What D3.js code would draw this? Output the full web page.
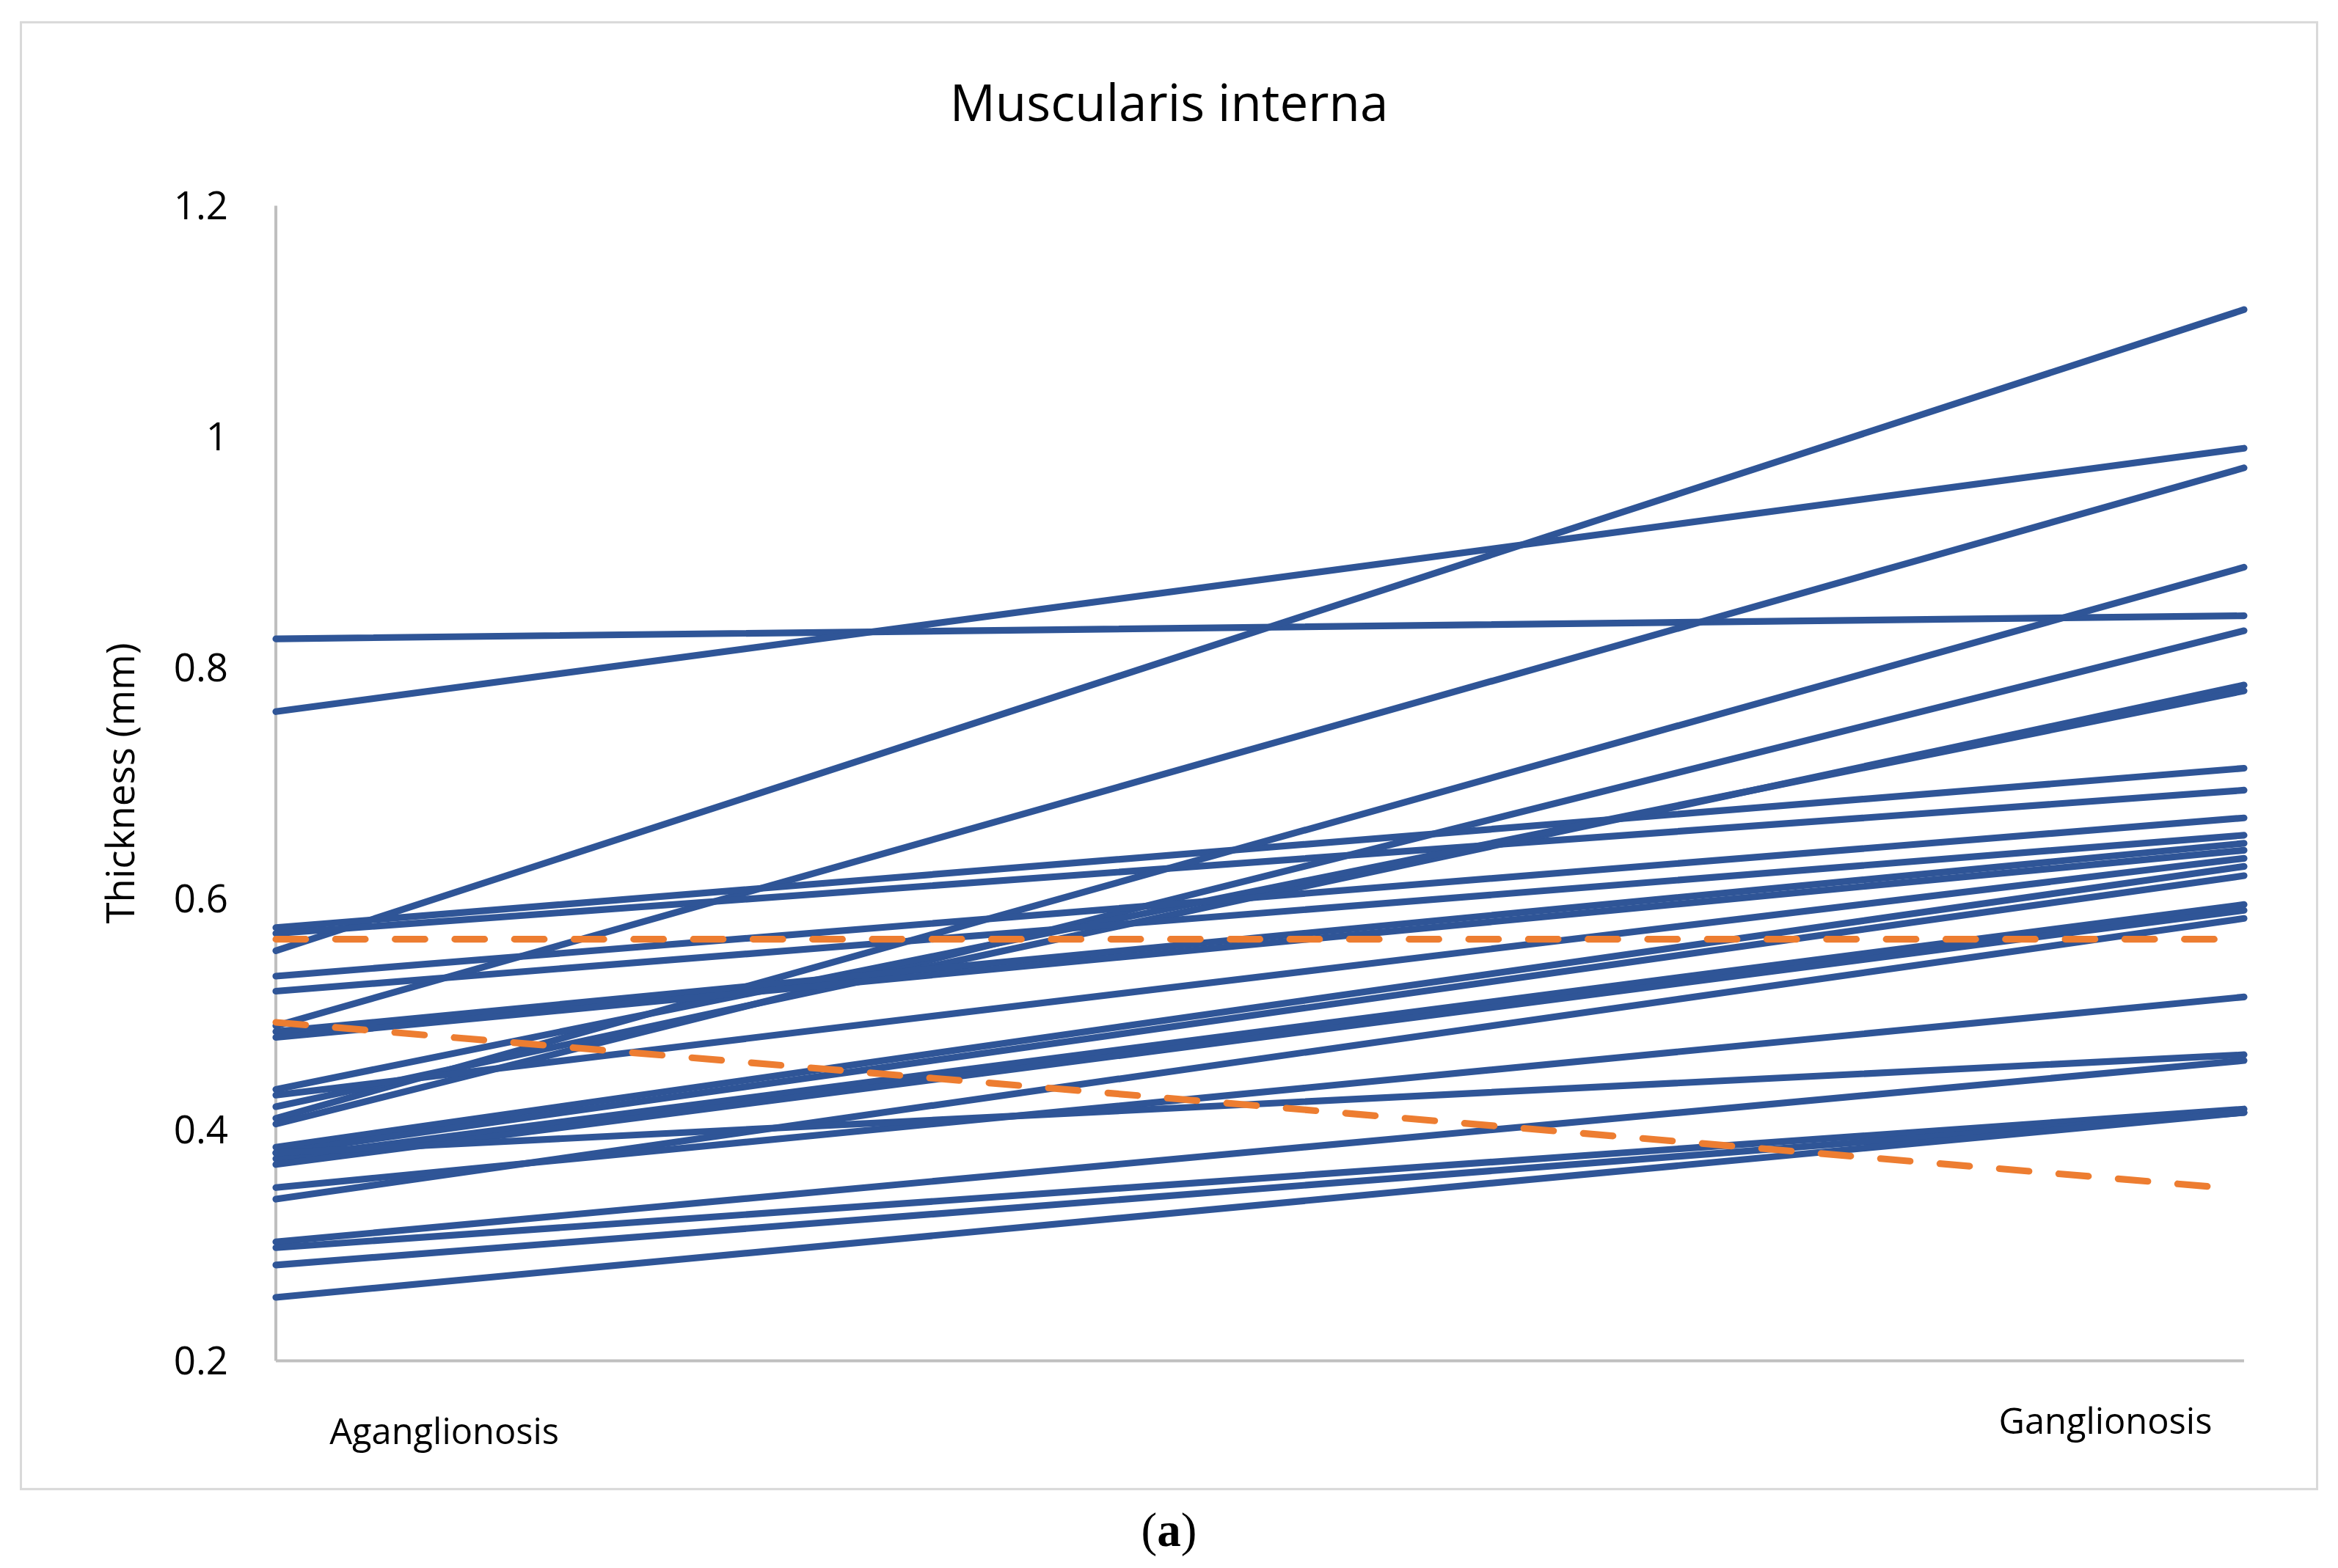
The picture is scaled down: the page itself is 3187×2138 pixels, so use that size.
<!DOCTYPE html>
<html>
<head>
<meta charset="utf-8">
<script src="https://cdn.jsdelivr.net/npm/d3@7"></script>
<style>
  body { margin: 0; background: #fff; }
  text { font-family: "Open Sans", "Noto Sans", sans-serif; }
  text.cap { font-family: "Liberation Serif", serif; }
</style>
</head>
<body>
<div id="chart"></div>
<script>
// categories and values (thickness in mm)
var categories = ["Aganglionosis", "Ganglionosis"];
var aganglionosis = [0.825, 0.762, 0.555, 0.49, 0.575, 0.57, 0.41, 0.405, 0.42, 0.435,
  0.533, 0.52, 0.485, 0.48, 0.43, 0.385, 0.38, 0.375, 0.37, 0.34, 0.35, 0.38, 0.303, 0.298, 0.283, 0.255];
var ganglionosis = [0.845, 0.99, 1.11, 0.973, 0.713, 0.694, 0.887, 0.832, 0.785, 0.78,
  0.67, 0.655, 0.648, 0.642, 0.635, 0.628, 0.62, 0.595, 0.59, 0.583, 0.515, 0.465, 0.46, 0.418, 0.415, 0.415];
var refStart = [0.565, 0.493];
var refEnd = [0.565, 0.35];
var yTicks = [0.2, 0.4, 0.6, 0.8, 1, 1.2];

var W = 1568, H = 1050;
var svg = d3.select("#chart").append("svg")
  .attr("width", 3187).attr("height", 2138)
  .attr("viewBox", "0 0 " + W + " " + H);

svg.append("rect").attr("x", 14).attr("y", 14).attr("width", 1540).attr("height", 984)
  .attr("fill", "#fff").attr("stroke", "#d9d9d9").attr("stroke-width", 1.5);

var x = d3.scalePoint().domain(categories).range([185, 1505]);
var y = d3.scaleLinear().domain([0.2, 1.2]).range([912, 137]);

// axes
svg.append("line").attr("x1", 185).attr("x2", 185).attr("y1", y(1.2)).attr("y2", y(0.2))
  .attr("stroke", "#bfbfbf").attr("stroke-width", 2);
svg.append("line").attr("x1", 185).attr("x2", 1505).attr("y1", y(0.2)).attr("y2", y(0.2))
  .attr("stroke", "#bfbfbf").attr("stroke-width", 2);

svg.selectAll(".tick").data(yTicks).enter().append("text")
  .attr("x", 153).attr("y", function (d) { return y(d); }).attr("dy", "0.35em")
  .attr("text-anchor", "end").attr("font-size", 26).attr("fill", "#000")
  .text(function (d) { return d; });

svg.append("text").attr("transform", "translate(90," + y(0.7) + ") rotate(-90)")
  .attr("text-anchor", "middle").attr("font-size", 26).text("Thickness (mm)");

svg.append("text").attr("x", x(categories[0]) + 113).attr("y", 968)
  .attr("text-anchor", "middle").attr("font-size", 24).text(categories[0]);
svg.append("text").attr("x", x(categories[1]) - 93).attr("y", 961)
  .attr("text-anchor", "middle").attr("font-size", 24).text(categories[1]);

svg.append("text").attr("x", 784).attr("y", 80).attr("text-anchor", "middle")
  .attr("font-size", 34).text("Muscularis interna");

// patient lines
aganglionosis.forEach(function (a, i) {
  svg.append("line")
    .attr("x1", x(categories[0])).attr("y1", y(a))
    .attr("x2", x(categories[1])).attr("y2", y(ganglionosis[i]))
    .attr("stroke", "#2f5597").attr("stroke-width", 4.5).attr("stroke-linecap", "round");
});

// reference (dashed) lines
refStart.forEach(function (a, i) {
  svg.append("line")
    .attr("x1", x(categories[0])).attr("y1", y(a))
    .attr("x2", x(categories[1]) - 15).attr("y2", y(refEnd[i]))
    .attr("stroke", "#ed7d31").attr("stroke-width", 4.5)
    .attr("stroke-dasharray", "20,20").attr("stroke-linecap", "round");
});

svg.append("text").attr("class", "cap").attr("x", 784).attr("y", 1036).attr("text-anchor", "middle")
  .attr("font-size", 32)
  .html("(<tspan font-weight='bold'>a</tspan>)");
</script>
</body>
</html>
